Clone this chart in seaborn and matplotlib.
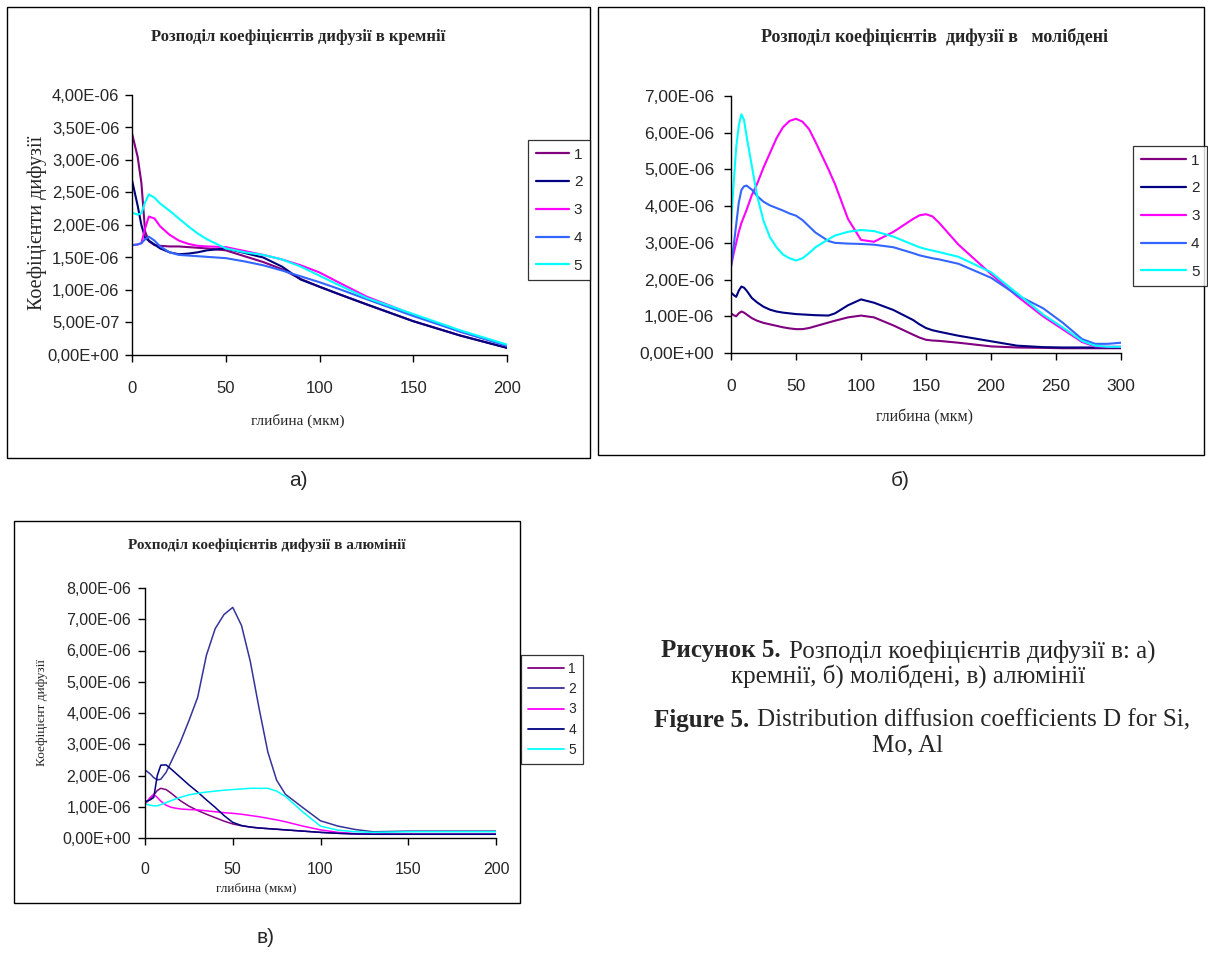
import numpy as np
import pandas as pd
import matplotlib
matplotlib.use("Agg")
import matplotlib.pyplot as plt
import seaborn as sns
from matplotlib.patches import Rectangle
from matplotlib.lines import Line2D
from matplotlib.ticker import FuncFormatter, MultipleLocator
from matplotlib.offsetbox import TextArea, HPacker, AnnotationBbox

# ---------------- DATA (values in units of 1e-6) ----------------
series_names = ["1", "2", "3", "4", "5"]

# a) silicon
si_depth = [0, 3, 5, 7, 9, 12, 15, 20, 25, 30, 35, 40, 50, 60, 70, 80, 90, 100, 110, 125, 150, 175, 200]
si_1 = [3.41, 3.05, 2.65, 1.90, 1.75, 1.69, 1.68, 1.67, 1.67, 1.66, 1.65, 1.64, 1.61, 1.52, 1.43, 1.32, 1.17, 1.05, 0.94, 0.78, 0.52, 0.30, 0.11]
si_2 = [2.69, 2.30, 2.00, 1.80, 1.76, 1.70, 1.64, 1.58, 1.55, 1.56, 1.58, 1.61, 1.64, 1.57, 1.50, 1.36, 1.16, 1.05, 0.94, 0.78, 0.52, 0.30, 0.11]
si_3 = [1.69, 1.70, 1.72, 1.95, 2.13, 2.10, 1.98, 1.85, 1.76, 1.71, 1.68, 1.67, 1.66, 1.60, 1.54, 1.47, 1.38, 1.27, 1.12, 0.90, 0.62, 0.36, 0.15]
si_4 = [1.69, 1.70, 1.72, 1.78, 1.82, 1.76, 1.67, 1.58, 1.54, 1.53, 1.52, 1.51, 1.49, 1.44, 1.38, 1.30, 1.21, 1.12, 1.02, 0.86, 0.60, 0.36, 0.14]
si_5 = [2.19, 2.16, 2.18, 2.35, 2.47, 2.42, 2.33, 2.22, 2.10, 1.98, 1.87, 1.78, 1.64, 1.58, 1.54, 1.47, 1.36, 1.22, 1.08, 0.88, 0.63, 0.38, 0.16]

# b) molybdenum
mo_depth = [0, 2, 4, 6, 8, 10, 12, 16, 20, 25, 30, 35, 40, 45, 50, 55, 60, 65, 75, 80, 90, 100, 110, 125, 140, 145, 150, 155, 160, 175, 200, 220, 240, 255, 270, 280, 290, 300]
mo_1 = [1.08, 1.03, 1.00, 1.08, 1.13, 1.10, 1.05, 0.95, 0.88, 0.82, 0.78, 0.74, 0.70, 0.67, 0.65, 0.65, 0.68, 0.73, 0.83, 0.88, 0.97, 1.02, 0.97, 0.75, 0.50, 0.42, 0.36, 0.34, 0.33, 0.28, 0.18, 0.15, 0.14, 0.13, 0.13, 0.13, 0.13, 0.13]
mo_2 = [1.65, 1.58, 1.53, 1.70, 1.81, 1.78, 1.70, 1.50, 1.38, 1.26, 1.18, 1.13, 1.10, 1.08, 1.06, 1.05, 1.04, 1.03, 1.02, 1.08, 1.30, 1.46, 1.37, 1.17, 0.90, 0.78, 0.68, 0.62, 0.58, 0.47, 0.32, 0.20, 0.16, 0.15, 0.15, 0.15, 0.15, 0.15]
mo_3 = [2.35, 2.70, 3.00, 3.30, 3.54, 3.72, 3.90, 4.30, 4.60, 5.05, 5.45, 5.85, 6.15, 6.32, 6.38, 6.30, 6.10, 5.75, 5.00, 4.60, 3.65, 3.08, 3.03, 3.30, 3.65, 3.75, 3.78, 3.72, 3.55, 2.95, 2.15, 1.55, 1.00, 0.65, 0.30, 0.18, 0.17, 0.17]
mo_4 = [2.35, 2.90, 3.50, 4.10, 4.44, 4.54, 4.56, 4.45, 4.28, 4.12, 4.02, 3.95, 3.88, 3.80, 3.74, 3.62, 3.45, 3.28, 3.05, 3.00, 2.98, 2.97, 2.95, 2.88, 2.72, 2.66, 2.62, 2.58, 2.55, 2.43, 2.05, 1.58, 1.22, 0.83, 0.38, 0.25, 0.25, 0.28]
mo_5 = [3.49, 4.60, 5.60, 6.20, 6.50, 6.35, 5.90, 5.10, 4.30, 3.60, 3.15, 2.88, 2.68, 2.58, 2.52, 2.58, 2.72, 2.88, 3.10, 3.20, 3.30, 3.35, 3.32, 3.17, 2.95, 2.88, 2.83, 2.79, 2.75, 2.62, 2.20, 1.63, 1.05, 0.70, 0.33, 0.20, 0.17, 0.17]

# c) aluminium
al_depth = [0, 3, 5, 7, 9, 12, 15, 20, 25, 30, 35, 40, 45, 50, 55, 60, 65, 70, 75, 80, 90, 100, 110, 120, 130, 150, 175, 200]
al_1 = [1.10, 1.25, 1.38, 1.52, 1.59, 1.55, 1.43, 1.20, 1.02, 0.88, 0.76, 0.65, 0.54, 0.45, 0.39, 0.35, 0.32, 0.30, 0.28, 0.26, 0.22, 0.18, 0.15, 0.13, 0.12, 0.12, 0.12, 0.12]
al_2 = [2.18, 2.05, 1.93, 1.86, 1.88, 2.10, 2.45, 3.05, 3.75, 4.50, 5.85, 6.70, 7.15, 7.38, 6.80, 5.65, 4.15, 2.75, 1.85, 1.40, 0.97, 0.55, 0.38, 0.27, 0.20, 0.22, 0.22, 0.22]
al_3 = [1.10, 1.30, 1.40, 1.30, 1.18, 1.05, 0.98, 0.93, 0.91, 0.90, 0.87, 0.84, 0.81, 0.79, 0.76, 0.72, 0.68, 0.63, 0.58, 0.52, 0.38, 0.26, 0.18, 0.14, 0.12, 0.12, 0.12, 0.12]
al_4 = [1.16, 1.22, 1.30, 2.00, 2.33, 2.34, 2.20, 1.95, 1.70, 1.47, 1.22, 0.98, 0.72, 0.50, 0.40, 0.35, 0.32, 0.30, 0.28, 0.26, 0.22, 0.18, 0.15, 0.13, 0.12, 0.12, 0.12, 0.12]
al_5 = [1.09, 1.05, 1.03, 1.03, 1.07, 1.13, 1.20, 1.30, 1.38, 1.43, 1.47, 1.50, 1.53, 1.55, 1.57, 1.59, 1.59, 1.59, 1.50, 1.33, 0.83, 0.38, 0.25, 0.20, 0.18, 0.20, 0.20, 0.20]

title_a = "Розподіл коефіцієнтів дифузії в кремнії"
title_b = "Розподіл коефіцієнтів  дифузії в   молібдені"
title_c = "Рохподіл коефіцієнтів дифузії в алюмінії"
ylabel_a = "Коефіцієнти дифузії"
ylabel_c = "Коефіцієнт дифузії"
xlabel_all = "глибина (мкм)"

colors_ab = ["#800080", "#000080", "#FF00FF", "#3366FF", "#00FFFF"]
colors_c = ["#800080", "#333399", "#FF00FF", "#000080", "#00FFFF"]

# ---------------- FIGURE ----------------
sns.set_style("white")
plt.rcParams["font.family"] = ["Liberation Sans", "DejaVu Sans"]

W, H = 1208, 955
fig = plt.figure(figsize=(W / 100, H / 100), dpi=100)
fig.patch.set_facecolor("white")

SERIF = ["Liberation Serif", "DejaVu Serif"]


def px_axes(l, t, r, b):
    return fig.add_axes([l / W, 1 - b / H, (r - l) / W, (b - t) / H])


def frame(l, t, r, b, color="black", lw=1.0):
    fig.add_artist(Rectangle((l / W, 1 - b / H), (r - l) / W, (b - t) / H,
                             transform=fig.transFigure, fill=False,
                             edgecolor=color, linewidth=lw))


def sci_fmt(v, pos):
    return f"{v:.2E}".replace(".", ",")


def make_df(depth, vals):
    rows = []
    for name, s in zip(series_names, vals):
        for d, v in zip(depth, s):
            rows.append({"depth": d, "D": v * 1e-6, "series": name})
    return pd.DataFrame(rows)


def panel(ax, depth, vals, colors, xmax, ymax, ystep, tick_fs, lw, ypad=4, xpad=12):
    df = make_df(depth, vals)
    sns.lineplot(data=df, x="depth", y="D", hue="series", palette=colors,
                 ax=ax, legend=False, linewidth=lw, estimator=None, sort=True)
    ax.set_xlim(0, xmax)
    ax.set_ylim(0, ymax)
    ax.xaxis.set_major_locator(MultipleLocator(50))
    ax.yaxis.set_major_locator(MultipleLocator(ystep))
    ax.yaxis.set_major_formatter(FuncFormatter(sci_fmt))
    ax.set_xlabel("")
    ax.set_ylabel("")
    for s in ["top", "right"]:
        ax.spines[s].set_visible(False)
    for s in ["left", "bottom"]:
        ax.spines[s].set_color("black")
        ax.spines[s].set_linewidth(1.0)
    ax.tick_params(axis="both", direction="out", length=5, width=1.0,
                   color="black", labelsize=tick_fs, left=True, bottom=True)
    ax.tick_params(axis="y", pad=ypad)
    ax.tick_params(axis="x", pad=xpad)
    ax.set_facecolor("white")


def legend_at(colors, x, y, fs, hl=2.2, spacing=0.9, lw=1.6):
    handles = [Line2D([0], [0], color=c, lw=lw) for c in colors]
    leg = fig.legend(handles, series_names, loc="upper left",
                     bbox_to_anchor=(x / W, 1 - y / H), bbox_transform=fig.transFigure,
                     fontsize=fs, frameon=True, fancybox=False, handlelength=hl,
                     handletextpad=0.3, labelspacing=spacing, borderpad=0.5,
                     borderaxespad=0)
    leg.get_frame().set_edgecolor("black")
    leg.get_frame().set_linewidth(0.9)
    return leg


# frames
frame(7, 7, 590, 458)
frame(598, 7, 1204, 455)
frame(14, 521, 520, 903)

# ---- panel a
ax_a = px_axes(132, 95, 507, 355)
panel(ax_a, si_depth, [si_1, si_2, si_3, si_4, si_5], colors_ab, 200, 4e-6, 0.5e-6, 12, 1.5,
      ypad=4, xpad=14)
fig.text(298 / W, 1 - 37 / H, title_a, ha="center", va="center", fontsize=12,
         fontweight="bold", family=SERIF)
fig.text(37 / W, 1 - 223 / H, ylabel_a, ha="center", va="center", rotation=90,
         fontsize=14.5, family=SERIF)
fig.text(298 / W, 1 - 421 / H, xlabel_all, ha="center", va="center", fontsize=11,
         family=SERIF)
legend_at(colors_ab, 528, 140, 11)
fig.text(298 / W, 1 - 480 / H, "а)", ha="center", va="center", fontsize=15)

# ---- panel b
ax_b = px_axes(731, 96, 1121, 353)
panel(ax_b, mo_depth, [mo_1, mo_2, mo_3, mo_4, mo_5], colors_ab, 300, 7e-6, 1e-6, 12.5, 1.5,
      ypad=7, xpad=14)
fig.text(935 / W, 1 - 37 / H, title_b, ha="center", va="center", fontsize=13,
         fontweight="bold", family=SERIF)
fig.text(925 / W, 1 - 417 / H, xlabel_all, ha="center", va="center", fontsize=11.5,
         family=SERIF)
legend_at(colors_ab, 1133, 146, 11, hl=3.0)
fig.text(900 / W, 1 - 480 / H, "б)", ha="center", va="center", fontsize=15)

# ---- panel c
ax_c = px_axes(145, 588, 496, 838)
panel(ax_c, al_depth, [al_1, al_2, al_3, al_4, al_5], colors_c, 200, 8e-6, 1e-6, 11.5, 1.1,
      ypad=5, xpad=12)
fig.text(267 / W, 1 - 545 / H, title_c, ha="center", va="center", fontsize=11,
         fontweight="bold", family=SERIF)
fig.text(42 / W, 1 - 712 / H, ylabel_c, ha="center", va="center", rotation=90,
         fontsize=9.5, family=SERIF)
fig.text(256 / W, 1 - 888 / H, xlabel_all, ha="center", va="center", fontsize=9.5,
         family=SERIF)
legend_at(colors_c, 521, 655, 10, hl=2.6, spacing=0.45, lw=1.3)
fig.text(265 / W, 1 - 937 / H, "в)", ha="center", va="center", fontsize=15)


# ---- caption
def caption_line(bold, regular, x, y, fs=18):
    children = []
    if bold:
        children.append(TextArea(bold, textprops=dict(fontsize=fs, fontweight="bold", family=SERIF)))
    children.append(TextArea(regular, textprops=dict(fontsize=fs, family=SERIF)))
    pack = HPacker(children=children, align="baseline", pad=0, sep=6)
    ab = AnnotationBbox(pack, (x / W, 1 - y / H), xycoords="figure fraction",
                        box_alignment=(0.5, 0.5), frameon=False, pad=0)
    fig.add_artist(ab)


caption_line("Рисунок 5.", "Розподіл коефіцієнтів дифузії в: а)", 908, 651)
caption_line(None, "кремнії, б) молібдені, в) алюмінії", 908, 676)
caption_line("Figure 5.", "Distribution diffusion coefficients D for Si,", 922, 720)
caption_line(None, "Mo, Al", 908, 745)

fig.savefig("out.png", dpi=100, facecolor="white")
